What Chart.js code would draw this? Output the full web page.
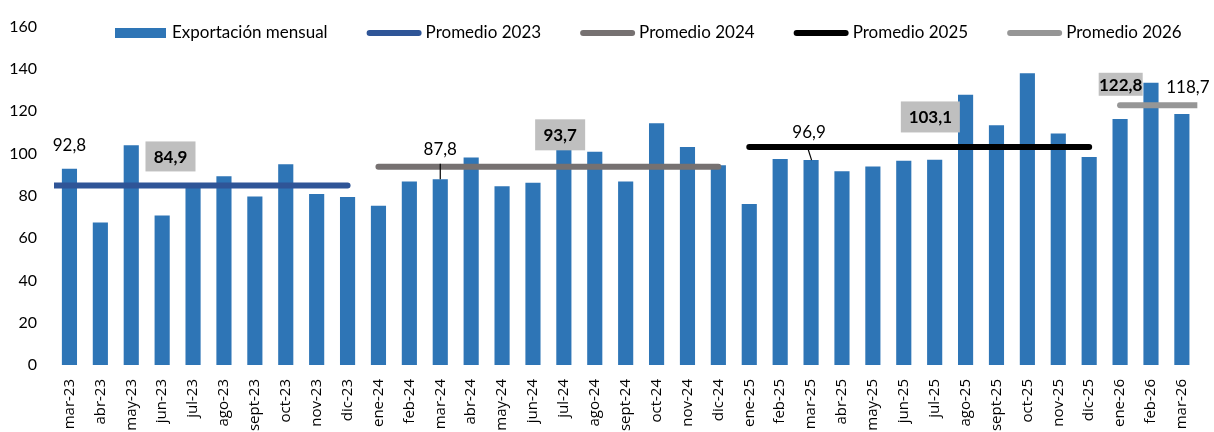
<!DOCTYPE html>
<html><head><meta charset="utf-8">
<script src="https://cdn.jsdelivr.net/npm/chart.js@4.4.1/dist/chart.umd.min.js"></script>
<style>html,body{margin:0;padding:0;background:#fff;overflow:hidden}</style>
</head><body>
<canvas id="c" width="1214" height="432"></canvas>
<script>
// ---------- data ----------
const months = ['mar-23','abr-23','may-23','jun-23','jul-23','ago-23','sept-23','oct-23','nov-23','dic-23',
  'ene-24','feb-24','mar-24','abr-24','may-24','jun-24','jul-24','ago-24','sept-24','oct-24','nov-24','dic-24',
  'ene-25','feb-25','mar-25','abr-25','may-25','jun-25','jul-25','ago-25','sept-25','oct-25','nov-25','dic-25',
  'ene-26','feb-26','mar-26'];
const monthlyExports = [92.8,67.4,103.9,70.7,85.5,89.3,79.7,94.9,80.9,79.4,
  75.3,86.8,87.8,98.1,84.5,86.2,104.5,100.8,86.8,114.3,103.1,94.5,
  76.1,97.4,96.9,91.6,93.8,96.6,97.1,127.8,113.3,138.0,109.4,98.3,
  116.3,133.4,118.7];
const avgYears = ['2023','2024','2025','2026'];
const avgValues = [84.9,93.7,103.1,122.8];
const yTicks = [0,20,40,60,80,100,120,140,160];
const labeledMonths = ['mar-23','mar-24','mar-25','mar-26'];
const seriesName = 'Exportación mensual';

// ---------- helpers ----------
const fmt = v => v.toFixed(1).replace('.', ',');
const lineColors = ['#2F5597','#767171','#000000','#969696'];
const barColor = '#2E75B6';

const lineDatasets = avgYears.map((yr, k) => {
  const idx = months.map((m, i) => m.endsWith('-' + yr.slice(2)) ? i : -1).filter(i => i >= 0);
  let a = idx[0], b = idx[idx.length - 1];
  if (k === 0) a -= 0.5;
  if (k === avgYears.length - 1) b += 0.5;
  return {
    type: 'line', label: 'Promedio ' + yr, xAxisID: 'xl', yAxisID: 'y',
    data: [{x: a, y: avgValues[k]}, {x: b, y: avgValues[k]}],
    borderColor: lineColors[k], backgroundColor: lineColors[k], borderWidth: 6,
    borderCapStyle: 'round', pointRadius: 0, order: 1
  };
});

const annotPlugin = {
  id: 'annot',
  afterDatasetsDraw(chart, args, opts) {
    const ctx = chart.ctx, xs = chart.scales.x, ys = chart.scales.y, xl = chart.scales.xl;
    ctx.save();
    ctx.textAlign = 'center'; ctx.textBaseline = 'middle';
    opts.valueLabels.forEach(l => {
      const i = months.indexOf(l.month);
      const px = xs.getPixelForValue(i), py = ys.getPixelForValue(monthlyExports[i]);
      if (l.leader) {
        ctx.beginPath();
        ctx.moveTo(px + l.leader[0], py + l.leader[1]);
        ctx.lineTo(px + l.leader[2], py);
        ctx.lineWidth = 1.2; ctx.strokeStyle = '#000'; ctx.stroke();
      }
      ctx.font = '17px Lato'; ctx.fillStyle = '#000';
      ctx.fillText(fmt(monthlyExports[i]), px + l.dx, py + l.dy);
    });
    opts.avgBoxes.forEach((b, k) => {
      const cx = xl.getPixelForValue(b.at), cy = ys.getPixelForValue(avgValues[k]) + b.dy;
      ctx.fillStyle = '#BFBFBF';
      ctx.fillRect(cx - b.w / 2, cy - b.h / 2, b.w, b.h);
      ctx.font = 'bold 17px Lato'; ctx.fillStyle = '#000';
      ctx.fillText(fmt(avgValues[k]), cx, cy + 1);
    });
    ctx.restore();
  },
  afterDraw(chart, args, opts) {
    const ctx = chart.ctx;
    ctx.save();
    ctx.font = opts.legendFont; ctx.textBaseline = 'middle'; ctx.textAlign = 'left';
    let x = opts.legendX; const y = opts.legendY;
    chart.data.datasets.forEach((ds, k) => {
      if (ds.type === 'bar') {
        ctx.fillStyle = ds.backgroundColor;
        ctx.fillRect(x, y - 5, 51, 10);
        x += 51 + 6;
      } else {
        ctx.beginPath(); ctx.moveTo(x + 3, y); ctx.lineTo(x + 52, y);
        ctx.lineWidth = 6; ctx.lineCap = 'round'; ctx.strokeStyle = ds.borderColor; ctx.stroke();
        x += 55 + 4;
      }
      ctx.fillStyle = '#000';
      ctx.fillText(ds.label, x, y);
      x += ctx.measureText(ds.label).width + 39;
    });
    ctx.restore();
  }
};

new Chart(document.getElementById('c'), {
  data: {
    labels: months,
    datasets: [
      { type: 'bar', label: seriesName, data: monthlyExports, xAxisID: 'x', yAxisID: 'y',
        backgroundColor: barColor, barPercentage: 0.49, categoryPercentage: 1.0,
        grouped: false, order: 2 },
      ...lineDatasets
    ]
  },
  options: {
    responsive: false, animation: false,
    layout: { padding: { top: 23, right: 9, left: 0, bottom: 0 } },
    plugins: {
      legend: { display: false }, tooltip: { enabled: false },
      annot: {
        legendX: 115, legendY: 33, legendFont: '17px Lato',
        valueLabels: [
          { month: labeledMonths[0], dx: 0, dy: -23 },
          { month: labeledMonths[1], dx: 0, dy: -30, leader: [0, -15.6, 0] },
          { month: labeledMonths[2], dx: -2, dy: -28, leader: [-2.8, -10.4, 0.5] },
          { month: labeledMonths[3], dx: 6, dy: -26 }
        ],
        avgBoxes: [
          { at: 3.27, dy: -29, w: 50, h: 30 },
          { at: 15.88, dy: -32, w: 50, h: 31 },
          { at: 27.86, dy: -30, w: 59, h: 31 },
          { at: 34.02, dy: -21, w: 44, h: 23 }
        ]
      }
    },
    scales: {
      x: {
        type: 'category', position: 'bottom', offset: true,
        grid: { display: false, drawTicks: false }, border: { display: false },
        ticks: { autoSkip: false, maxRotation: 90, minRotation: 90, padding: 14,
                 color: '#000', font: { family: 'Open Sans', size: 15 } },
        afterFit(s) { s.height = 67; }
      },
      xl: { type: 'linear', display: false, min: -0.5, max: months.length - 0.5, position: 'bottom' },
      y: {
        type: 'linear', min: 0, max: 160,
        grid: { display: false, drawTicks: false }, border: { display: false },
        afterBuildTicks(s) { s.ticks = yTicks.map(v => ({ value: v })); },
        ticks: { padding: 17, color: '#000', font: { family: 'Lato', size: 16 } },
        afterFit(s) { s.width = 54; }
      }
    }
  },
  plugins: [annotPlugin]
});
</script>
</body></html>
